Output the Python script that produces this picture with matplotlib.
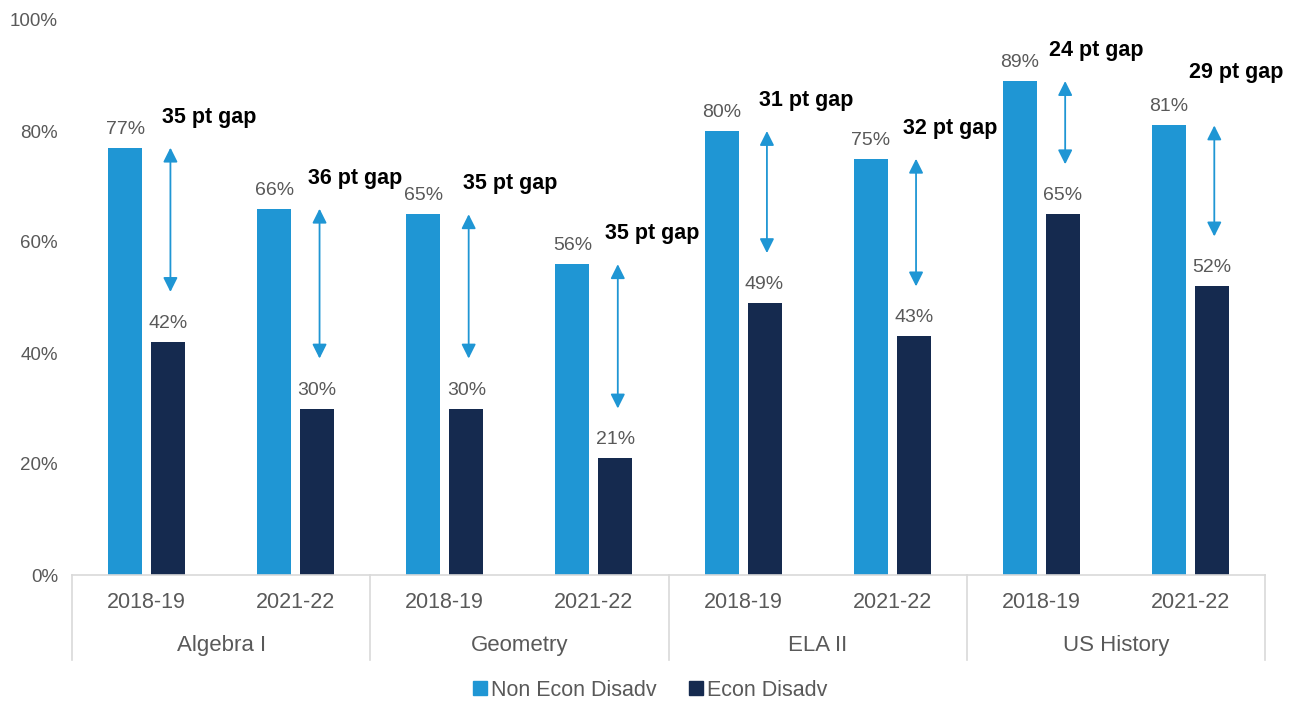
import matplotlib.pyplot as plt
from matplotlib.patches import Patch
import numpy as np

plt.rcParams['font.family'] = ['Liberation Sans', 'DejaVu Sans']

# data
subjects = ["Algebra I", "Geometry", "ELA II", "US History"]
years = ["2018-19", "2021-22"]
non_econ = [77, 66, 65, 56, 80, 75, 89, 81]
econ = [42, 30, 30, 21, 49, 43, 65, 52]
gaps = [35, 36, 35, 35, 31, 32, 24, 29]

LIGHT = "#1f96d4"
DARK = "#152a4f"
GRAY = "#595959"
LINE = "#d9d9d9"


def main():
    fig = plt.figure(figsize=(13.01, 7.02), dpi=100)
    ax = fig.add_axes([72 / 1301, 127 / 702, 1193 / 1301, 555 / 702])

    x = np.arange(len(non_econ))
    w = 0.228
    off = 0.144
    ax.bar(x - off, non_econ, w, color=LIGHT, label="Non Econ Disadv")
    ax.bar(x + off, econ, w, color=DARK, label="Econ Disadv")

    # value labels
    for i in range(len(x)):
        ax.text(x[i] - off, non_econ[i] + 1.8, "%d%%" % non_econ[i], ha="center",
                va="bottom", fontsize=14, color=GRAY)
        ax.text(x[i] + off, econ[i] + 1.8, "%d%%" % econ[i], ha="center",
                va="bottom", fontsize=14, color=GRAY)

    # gap arrows and labels (label nudges keep the text clear of neighbours)
    lift = [5.5, 5.5, 5.5, 5.5, 5.5, 5.5, 5.5, 9.5]
    shift = [0.42, 0.40, 0.44, 0.39, 0.42, 0.39, 0.37, 0.31]
    for i in range(len(x)):
        ax.annotate("", xy=(x[i] + 0.16, non_econ[i]), xytext=(x[i] + 0.16, econ[i] + 9),
                    arrowprops=dict(arrowstyle="<|-|>,head_length=0.72,head_width=0.36",
                                    color=LIGHT, lw=1.3, mutation_scale=12,
                                    shrinkA=0, shrinkB=0))
        ax.text(x[i] + shift[i], non_econ[i] + lift[i], "%d pt gap" % gaps[i], ha="center",
                va="center", fontsize=15.5, fontweight="bold", color="black")

    ax.set_xlim(-0.5, len(x) - 0.5)
    ax.set_ylim(0, 100)
    ax.set_yticks(range(0, 101, 20))
    ax.set_yticklabels(["%d%%" % v for v in range(0, 101, 20)])
    ax.tick_params(axis="y", length=0, pad=10, labelsize=13.5, labelcolor=GRAY)
    ax.set_xticks([])
    for s in ["top", "right", "left"]:
        ax.spines[s].set_visible(False)
    ax.spines["bottom"].set_color(LINE)
    ax.spines["bottom"].set_linewidth(1.2)

    # two-level category axis
    tr = ax.get_xaxis_transform()
    for i in range(len(x)):
        ax.text(x[i], -0.05, years[i % 2], transform=tr, ha="center", va="center",
                fontsize=15.5, color=GRAY)
    for j, name in enumerate(subjects):
        ax.text(2 * j + 0.5, -0.127, name, transform=tr, ha="center", va="center",
                fontsize=16, color=GRAY)
    for k in range(len(subjects) + 1):
        ax.plot([2 * k - 0.5, 2 * k - 0.5], [0, -0.153], transform=tr, color=LINE,
                lw=1.2, clip_on=False)

    handles = [Patch(color=LIGHT, label="Non Econ Disadv"),
               Patch(color=DARK, label="Econ Disadv")]
    fig.legend(handles=handles, loc="center", bbox_to_anchor=(650 / 1301, 1 - 690 / 702),
               ncol=2, frameon=False, fontsize=15.5, handlelength=0.65, handleheight=0.65,
               handletextpad=0.2, columnspacing=1.5, labelcolor=GRAY)

    fig.savefig("out.png", dpi=100)


if __name__ == "__main__":
    main()
